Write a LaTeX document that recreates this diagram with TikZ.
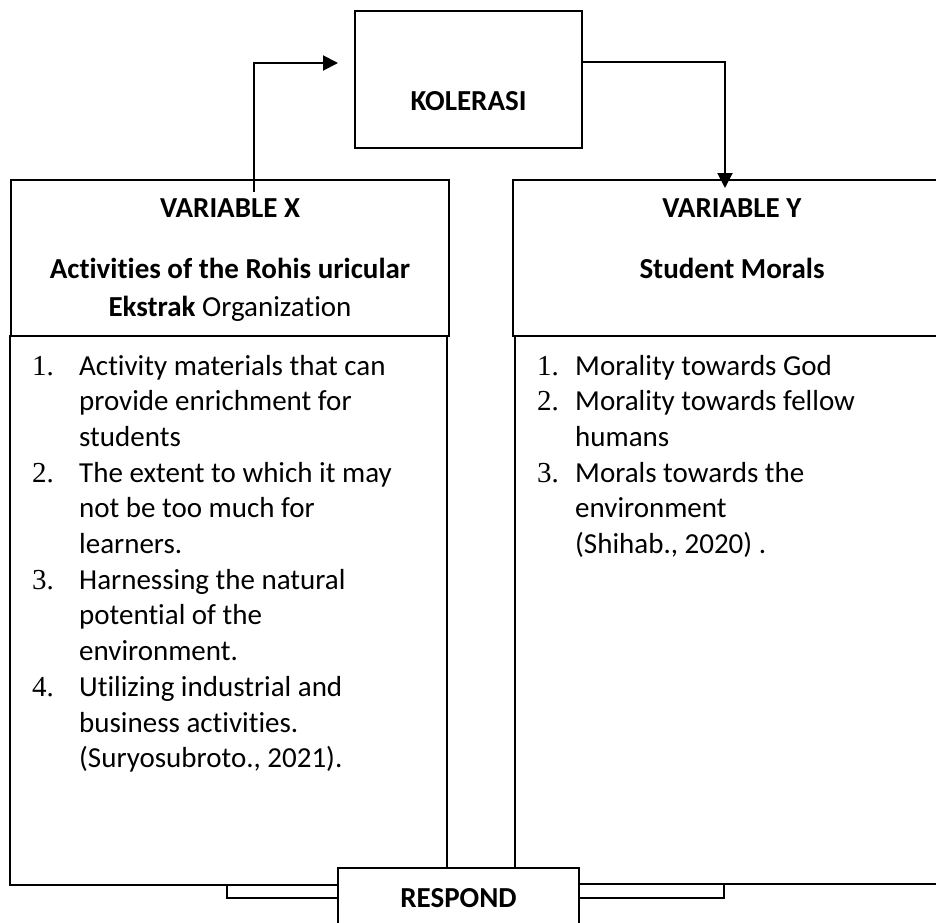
\documentclass[tikz,border=0pt]{standalone}
\usepackage{fontspec}
\setmainfont{Carlito}[Ligatures={NoCommon}]
\newfontfamily\numfont{Liberation Serif}
\usetikzlibrary{arrows.meta,calc}
\begin{document}
\begin{tikzpicture}[x=1pt,y=-1pt,
  box/.style={draw, line width=1.8pt, inner sep=0pt, fill=white},
  conn/.style={line width=2pt},
  arr/.style={conn, -{Triangle[length=15pt,width=15pt]}},
  txt/.style={font=\fontsize{29}{38}\selectfont, align=center},
  listtxt/.style={anchor=base west, inner sep=0pt, font=\fontsize{29}{35.7}\selectfont},
]
\useasboundingbox (0,0) rectangle (936,922);
\clip (0,0) rectangle (936,922);
\fill[white] (0,0) rectangle (936,922);

% lower boxes
\node[box, minimum width=437pt, minimum height=549pt] (lx) at (228.5,610.5) {};
\node[box, minimum width=436pt, minimum height=548pt] (ly) at (733,610) {};
% header boxes
\node[box, txt, minimum width=438pt, minimum height=156pt] (hx) at (230,258)
  {\rule{0pt}{23pt}\textbf{VARIABLE X}\\[23pt]\textbf{Activities of the Rohis uricular}\\\textbf{Ekstrak} Organization};
\node[box, txt, minimum width=438pt, minimum height=156pt] (hy) at (732,258)
  {\rule{0pt}{23pt}\textbf{VARIABLE Y}\\[23pt]\textbf{Student Morals}\\\phantom{Org}};
% top box
\node[box, minimum width=227pt, minimum height=137pt,
  label={[txt, yshift=-21.5pt]center:\textbf{KOLERASI}}] (kol) at (468.5,79.5) {};
% bottom box
\node[box, txt, minimum width=241pt, minimum height=60pt] (resp) at (458.5,898) {\textbf{RESPOND}};

% lists
\node[listtxt] (listx) at (32,375) {\begin{tabular}[t]{@{}p{47pt}@{}l@{}}
{\numfont 1.} & Activity materials that can\\
 & provide enrichment for\\
 & students\\
{\numfont 2.} & The extent to which it may\\
 & not be too much for\\
 & learners.\\
{\numfont 3.} & Harnessing the natural\\
 & potential of the\\
 & environment.\\
{\numfont 4.} & Utilizing industrial and\\
 & business activities.\\
 & (Suryosubroto., 2021).
\end{tabular}};
\node[listtxt] (listy) at (537,375) {\begin{tabular}[t]{@{}p{38pt}@{}l@{}}
{\numfont 1.} & Morality towards God\\
{\numfont 2.} & Morality towards fellow\\
 & humans\\
{\numfont 3.} & Morals towards the\\
 & environment\\
 & (Shihab., 2020) .
\end{tabular}};

% connectors
\coordinate (xs) at (254,192);
\coordinate (ke) at (338,63);
\coordinate (ye) at (725,188);
\coordinate (lxb) at (227,885);
\coordinate (lyb) at (724,884);
\draw[arr] (xs) |- (ke);
\draw[arr] ($(kol.north east)+(0,52)$) -| (ye);
\draw[conn] (lxb) |- (resp.west);
\draw[conn] (resp.east) -| (lyb);
\end{tikzpicture}
\end{document}
